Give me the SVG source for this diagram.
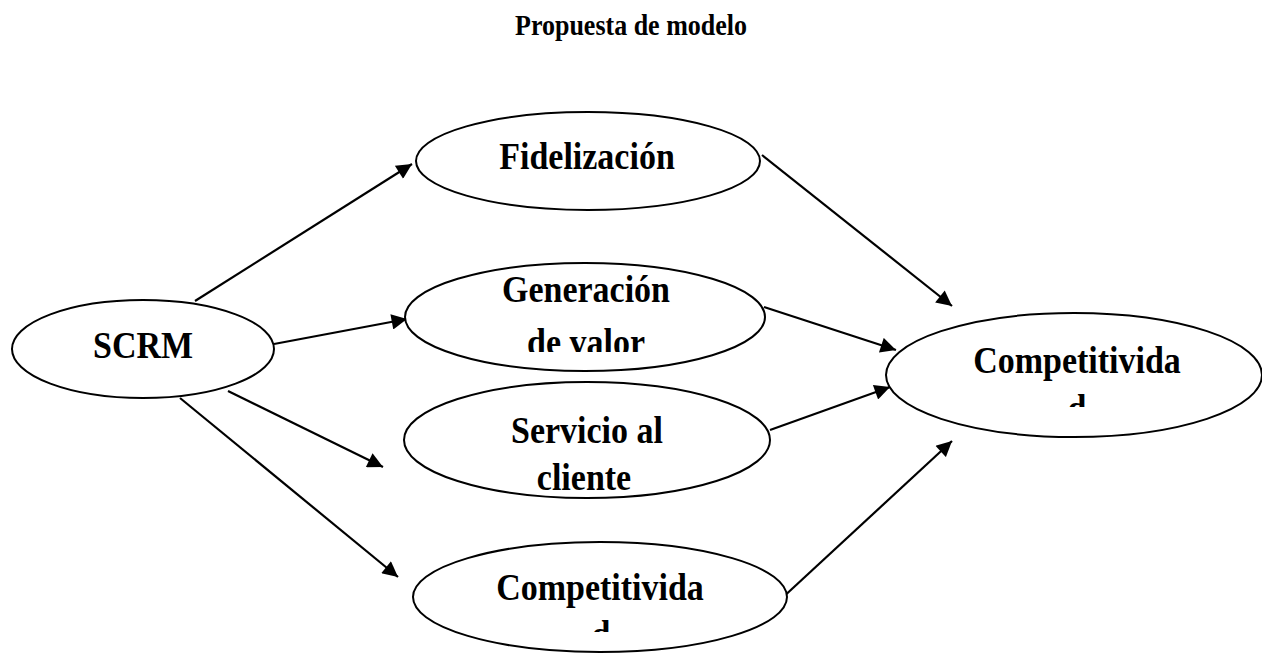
<svg xmlns="http://www.w3.org/2000/svg" width="1262" height="654" viewBox="0 0 1262 654">
<defs>
<style>
.n{fill:#fff;stroke:#000;stroke-width:2}
.t{font-family:"Liberation Serif","Times New Roman",serif;font-weight:bold;font-size:34px;fill:#000;text-anchor:middle}
.c line{stroke:#000;stroke-width:2.2}
</style>
<marker id="ah" viewBox="0 0 10 10" refX="10" refY="5" markerWidth="8" markerHeight="7" markerUnits="strokeWidth" orient="auto">
<path d="M0,0 L10,5 L0,10 z" fill="#000"/>
</marker>
<clipPath id="cg"><rect x="0" y="0" width="1262" height="352"/></clipPath>
<clipPath id="cr"><rect x="0" y="0" width="1262" height="407"/></clipPath>
<clipPath id="cb"><rect x="0" y="0" width="1262" height="632"/></clipPath>
</defs>
<rect width="1262" height="654" fill="#fff"/>
<text class="t" transform="translate(631,35) scale(1,1.15)" style="font-size:26px">Propuesta de modelo</text>
<g class="c" id="connectors">
<line x1="195" y1="301" x2="412" y2="164" marker-end="url(#ah)"/>
<line x1="274" y1="344" x2="407" y2="319" marker-end="url(#ah)"/>
<line x1="228" y1="391" x2="383" y2="467" marker-end="url(#ah)"/>
<line x1="180" y1="398" x2="398" y2="577" marker-end="url(#ah)"/>
<line x1="762" y1="155" x2="952" y2="306" marker-end="url(#ah)"/>
<line x1="764" y1="307" x2="896" y2="350" marker-end="url(#ah)"/>
<line x1="770" y1="430" x2="890" y2="387" marker-end="url(#ah)"/>
<line x1="780" y1="600" x2="952" y2="441" marker-end="url(#ah)"/>
</g>
<g id="scrm">
<ellipse class="n" cx="143" cy="349" rx="131" ry="49"/>
<text class="t" transform="translate(143,358) scale(1,1.12)">SCRM</text>
</g>
<g id="fidelizacion">
<ellipse class="n" cx="588" cy="161" rx="172" ry="49"/>
<text class="t" transform="translate(587,169) scale(1,1.12)">Fidelización</text>
</g>
<g id="generacion">
<ellipse class="n" cx="585" cy="317" rx="180" ry="54"/>
<text class="t" transform="translate(586,302) scale(1,1.12)">Generación</text>
<g clip-path="url(#cg)"><text class="t" transform="translate(586,355) scale(1,1.12)">de valor</text></g>
</g>
<g id="servicio">
<ellipse class="n" cx="587" cy="440" rx="183" ry="58"/>
<text class="t" transform="translate(587,443) scale(1,1.12)">Servicio al</text>
<text class="t" transform="translate(584,490) scale(1,1.12)">cliente</text>
</g>
<g id="competitividad-bottom">
<ellipse class="n" cx="600" cy="597" rx="187" ry="55"/>
<text class="t" transform="translate(600,600) scale(1,1.12)">Competitivida</text>
<g clip-path="url(#cb)"><text class="t" transform="translate(601,647) scale(1,1.12)">d</text></g>
</g>
<g id="competitividad-right">
<ellipse class="n" cx="1074" cy="375" rx="188" ry="62"/>
<text class="t" transform="translate(1077,373) scale(1,1.12)">Competitivida</text>
<g clip-path="url(#cr)"><text class="t" transform="translate(1077,421) scale(1,1.12)">d</text></g>
</g>
</svg>
